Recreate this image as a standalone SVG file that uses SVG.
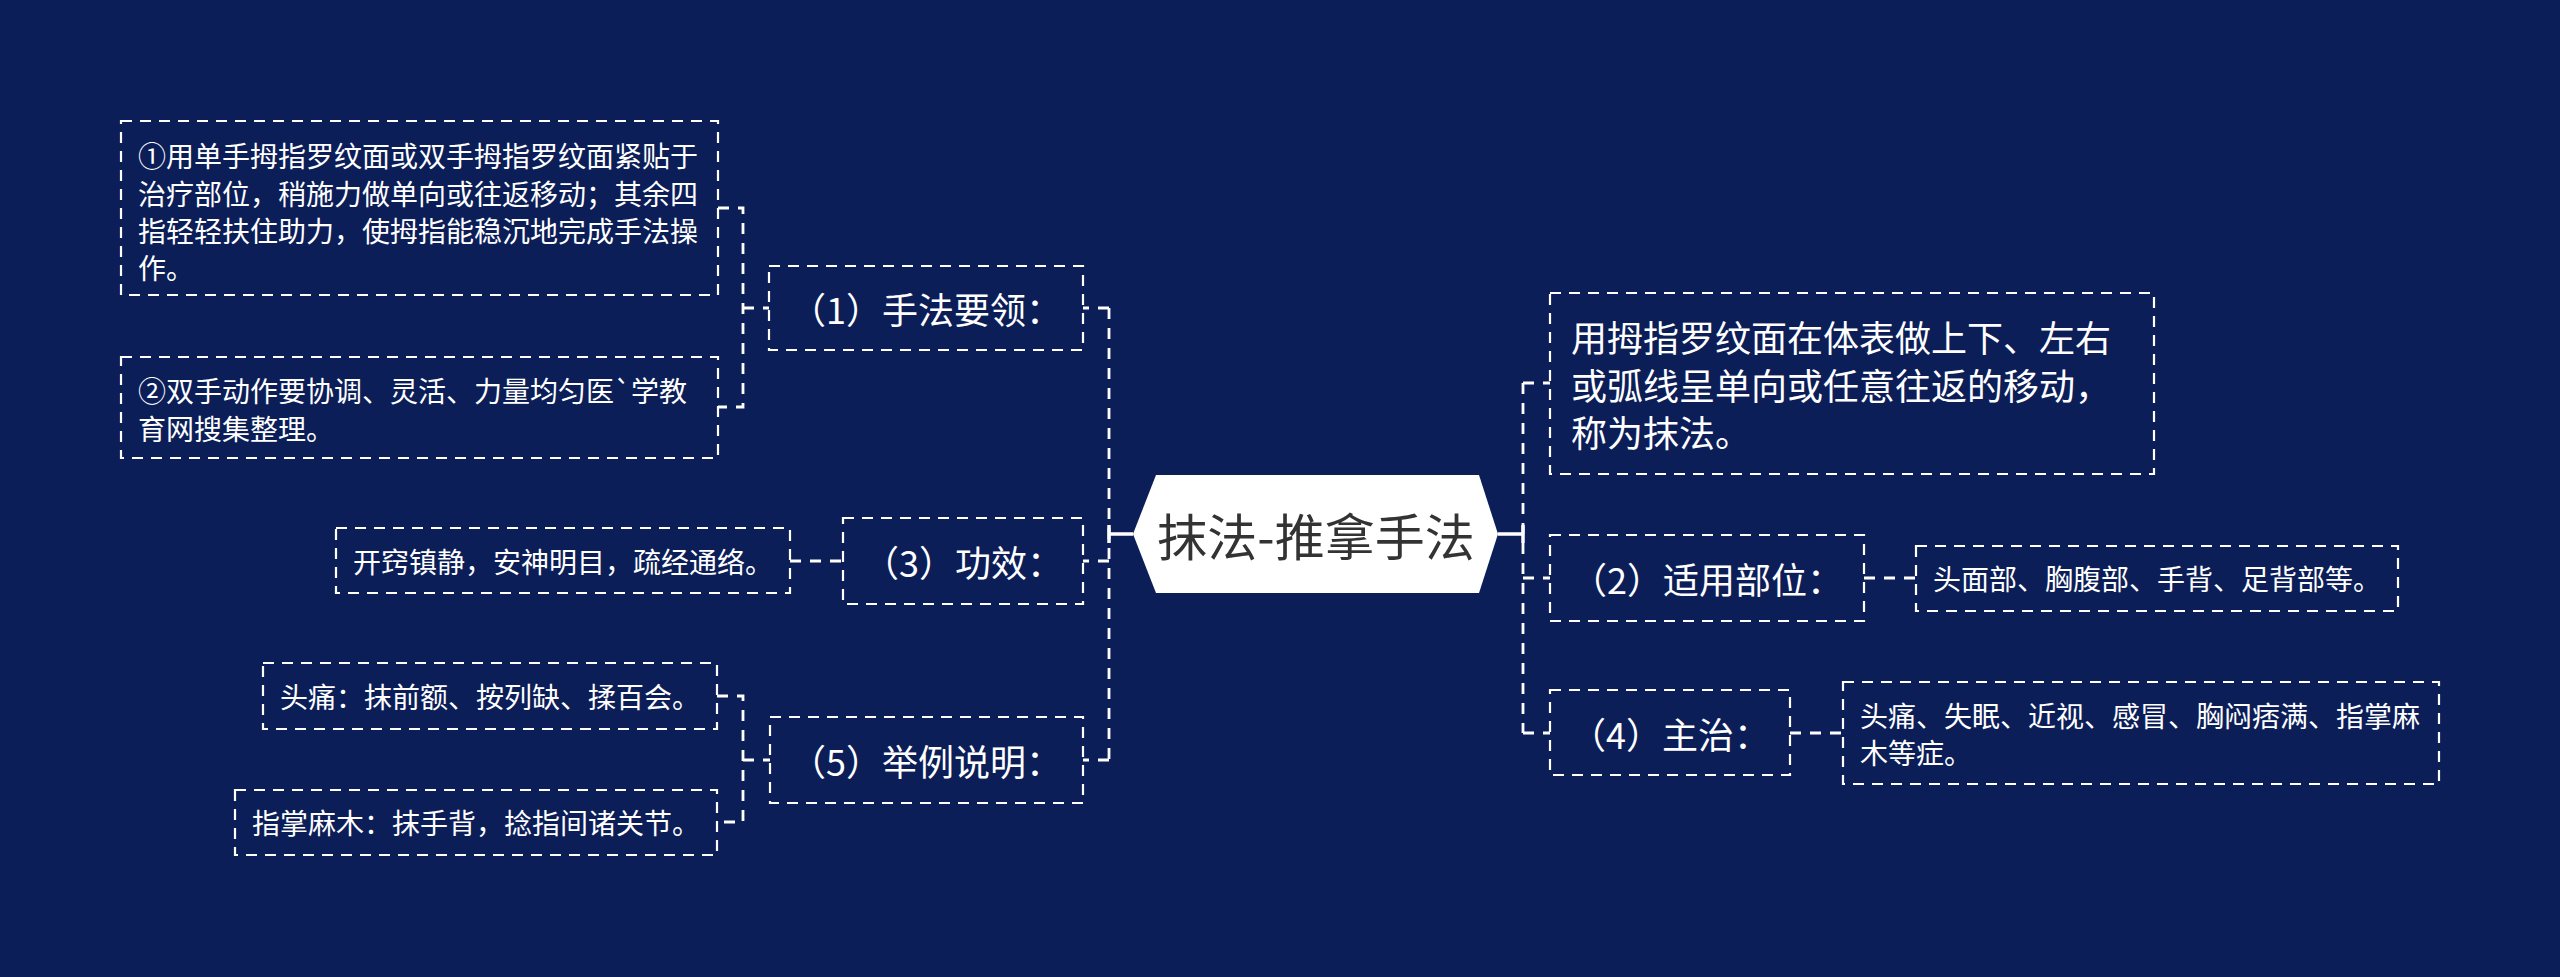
<svg xmlns="http://www.w3.org/2000/svg" width="2560" height="977" viewBox="0 0 2560 977">
<style>
.bg{fill:#0c1e58}
.box{fill:none;stroke:#ffffff;stroke-width:2.2;stroke-dasharray:11 8}
.con{fill:none;stroke:#ffffff;stroke-width:2.8;stroke-dasharray:11 9}
.solid{fill:none;stroke:#ffffff;stroke-width:3.5}
text{font-family:"Microsoft YaHei","Noto Sans CJK SC",sans-serif;fill:#ffffff;dominant-baseline:central}
.leaf{font-size:28px}
.mid{font-size:36px}
.c{text-anchor:middle}
.root{font-size:50px;fill:#333333;text-anchor:middle}
</style>
<rect class="bg" x="0" y="0" width="2560" height="977"/>

<g id="connectors">
  <path class="solid" d="M1133,534 H1109 M1109,525 V543"/>
  <path class="con" d="M1109,308 V760"/>
  <path class="con" d="M1109,308 H1083 M1109,561 H1083 M1109,760 H1083"/>
  <path class="con" d="M718,208 H743 V407 H718 M743,308 H769"/>
  <path class="con" d="M790,561 H843"/>
  <path class="con" d="M717,696 H743 V822 H717 M743,760 H770"/>
  <path class="solid" d="M1498,534 H1523 M1523,525 V543"/>
  <path class="con" d="M1523,383 V733"/>
  <path class="con" d="M1523,383 H1550 M1523,578 H1550 M1523,733 H1550"/>
  <path class="con" d="M1864,578 H1916"/>
  <path class="con" d="M1790,733 H1843"/>
</g>

<g id="root">
  <polygon points="1133,534 1156,475 1479,475 1498,534 1479,593 1156,593" fill="#ffffff"/>
  <text class="root" x="1316" y="534">抹法-推拿手法</text>
</g>

<g id="n1">
  <rect class="box" x="769" y="266" width="314" height="84"/>
  <text class="mid c" x="926" y="308">（1）手法要领：</text>
</g>
<g id="n1a">
  <rect class="box" x="121" y="121" width="597" height="174"/>
  <text class="leaf" x="138" y="155">①用单手拇指罗纹面或双手拇指罗纹面紧贴于</text>
  <text class="leaf" x="138" y="193">治疗部位，稍施力做单向或往返移动；其余四</text>
  <text class="leaf" x="138" y="230">指轻轻扶住助力，使拇指能稳沉地完成手法操</text>
  <text class="leaf" x="138" y="267">作。</text>
</g>
<g id="n1b">
  <rect class="box" x="121" y="357" width="597" height="101"/>
  <text class="leaf" x="138" y="390">②双手动作要协调、灵活、力量均匀医`学教</text>
  <text class="leaf" x="138" y="428">育网搜集整理。</text>
</g>

<g id="n3">
  <rect class="box" x="843" y="518" width="240" height="86"/>
  <text class="mid c" x="963" y="561">（3）功效：</text>
</g>
<g id="n3a">
  <rect class="box" x="336" y="528" width="454" height="65"/>
  <text class="leaf" x="353" y="561">开窍镇静，安神明目，疏经通络。</text>
</g>

<g id="n5">
  <rect class="box" x="770" y="717" width="313" height="86"/>
  <text class="mid c" x="926" y="760">（5）举例说明：</text>
</g>
<g id="n5a">
  <rect class="box" x="263" y="663" width="454" height="66"/>
  <text class="leaf" x="280" y="696">头痛：抹前额、按列缺、揉百会。</text>
</g>
<g id="n5b">
  <rect class="box" x="235" y="790" width="482" height="65"/>
  <text class="leaf" x="252" y="822">指掌麻木：抹手背，捻指间诸关节。</text>
</g>

<g id="ndef">
  <rect class="box" x="1550" y="293" width="604" height="181"/>
  <text class="mid" x="1571" y="336">用拇指罗纹面在体表做上下、左右</text>
  <text class="mid" x="1571" y="383.5">或弧线呈单向或任意往返的移动，</text>
  <text class="mid" x="1571" y="431">称为抹法。</text>
</g>

<g id="n2">
  <rect class="box" x="1550" y="535" width="314" height="86"/>
  <text class="mid c" x="1707" y="578">（2）适用部位：</text>
</g>
<g id="n2a">
  <rect class="box" x="1916" y="546" width="482" height="65"/>
  <text class="leaf" x="1933" y="578">头面部、胸腹部、手背、足背部等。</text>
</g>

<g id="n4">
  <rect class="box" x="1550" y="690" width="240" height="85"/>
  <text class="mid c" x="1670" y="733">（4）主治：</text>
</g>
<g id="n4a">
  <rect class="box" x="1843" y="682" width="596" height="102"/>
  <text class="leaf" x="1860" y="715">头痛、失眠、近视、感冒、胸闷痞满、指掌麻</text>
  <text class="leaf" x="1860" y="752">木等症。</text>
</g>
</svg>
